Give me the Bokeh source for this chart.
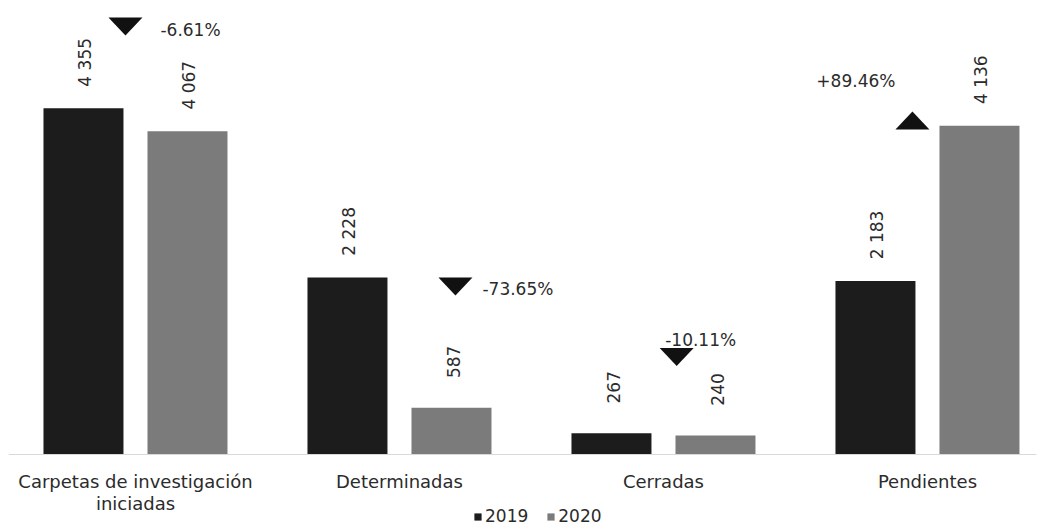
import math
from bokeh.plotting import figure
from bokeh.models import (ColumnDataSource, Range1d, FixedTicker, Legend, LegendItem)
from bokeh.core.properties import value
from bokeh.embed import file_html
from bokeh.resources import INLINE

# ---- data ----
categories = ["Carpetas de investigación\niniciadas", "Determinadas", "Cerradas", "Pendientes"]
series_names = ["2019", "2020"]
values_2019 = [4355, 2228, 267, 2183]
values_2020 = [4067, 587, 240, 4136]

# ---- layout of change annotations (category offset, y position in data units) ----
ann_dx = [-0.038, 0.212, 0.05, -0.057]
ann_y = [5384, 2113, 1226, 4201]
ann_text_dx = [35, 27, 24, -17]      # px
ann_text_dy = [4, 2, -17, -40]       # px
ann_text_align = ["left", "left", "center", "right"]

# ---- style ----
FONT = "DejaVu Sans"
C2019 = "#1c1c1c"
C2020 = "#7b7b7b"
TEXT = "#2b2b2b"
FRAME_W, FRAME_H = 1028, 530
X_START, X_END = 0.019, 3.913
Y_START, Y_END = -956, 5711
BAR_W = 0.303
DODGE = 0.197
TRI_HALF_W_PX, TRI_H_PX = 17, 18

p = figure(frame_width=FRAME_W, frame_height=FRAME_H,
           x_range=Range1d(X_START, X_END), y_range=Range1d(Y_START, Y_END),
           output_backend="svg", toolbar_location=None, y_axis_location=None,
           min_border_left=8, min_border_right=8, min_border_top=0, min_border_bottom=0)
p.outline_line_color = None
p.xgrid.visible = False
p.ygrid.visible = False
p.background_fill_color = "white"
p.border_fill_color = "white"

centers = [i + 0.5 for i in range(len(categories))]

def fmt(v):
    return f"{v:,}".replace(",", " ")

src19 = ColumnDataSource(dict(x=[c - DODGE for c in centers], top=values_2019,
                              lab=[fmt(v) for v in values_2019]))
src20 = ColumnDataSource(dict(x=[c + DODGE for c in centers], top=values_2020,
                              lab=[fmt(v) for v in values_2020]))

r19 = p.vbar(x="x", top="top", bottom=0, width=BAR_W, source=src19, fill_color=C2019, line_color=None)
r20 = p.vbar(x="x", top="top", bottom=0, width=BAR_W, source=src20, fill_color=C2020, line_color=None)

for src in (src19, src20):
    p.text(x="x", y="top", text="lab", source=src, angle=math.pi / 2,
           text_align="center", text_baseline="middle", y_offset=-46, x_offset=2,
           text_font=value(FONT), text_font_size="17px", text_color=TEXT)

# ---- change annotations ----
xpx = FRAME_W / (X_END - X_START)
ypx = FRAME_H / (Y_END - Y_START)
hw = TRI_HALF_W_PX / xpx
hh = (TRI_H_PX / 2) / ypx
tri_xs, tri_ys = [], []
for i, (a, b) in enumerate(zip(values_2019, values_2020)):
    cx = centers[i] + ann_dx[i]
    cy = ann_y[i]
    tri_xs.append([cx - hw, cx + hw, cx])
    if b < a:
        tri_ys.append([cy + hh, cy + hh, cy - hh])
    else:
        tri_ys.append([cy - hh, cy - hh, cy + hh])
    pct = (b - a) / a * 100
    p.text(x=[cx], y=[cy], text=[f"{pct:+.2f}%"], x_offset=ann_text_dx[i], y_offset=ann_text_dy[i],
           text_align=ann_text_align[i], text_baseline="middle",
           text_font=value(FONT), text_font_size="17px", text_color=TEXT)
p.patches(xs=tri_xs, ys=tri_ys, fill_color="#111111", line_color=None)

# ---- axis (drawn at the value-zero baseline inside the frame) ----
xa = p.xaxis[0]
xa.fixed_location = 0
xa.ticker = FixedTicker(ticks=centers)
xa.major_label_overrides = {c: lab for c, lab in zip(centers, categories)}
xa.major_tick_line_color = None
xa.minor_tick_line_color = None
xa.major_tick_in = 0
xa.major_tick_out = 0
xa.axis_line_color = "#d9d9d9"
xa.axis_line_width = 1
xa.major_label_standoff = 16
xa.major_label_text_font = FONT
xa.major_label_text_font_size = "18px"
xa.major_label_text_line_height = 1.05
xa.major_label_text_color = TEXT

# ---- legend ----
legend = Legend(items=[LegendItem(label=series_names[0], renderers=[r19]),
                       LegendItem(label=series_names[1], renderers=[r20])],
                location=(465, 4), orientation="horizontal",
                glyph_width=9, glyph_height=9, label_height=14, label_standoff=3,
                spacing=18, padding=0, margin=0, border_line_color=None,
                background_fill_alpha=0, label_text_line_height=1.0,
                label_text_font=FONT, label_text_font_size="17px", label_text_color=TEXT)
p.add_layout(legend)

open("out.html", "w").write(file_html(p, INLINE))
